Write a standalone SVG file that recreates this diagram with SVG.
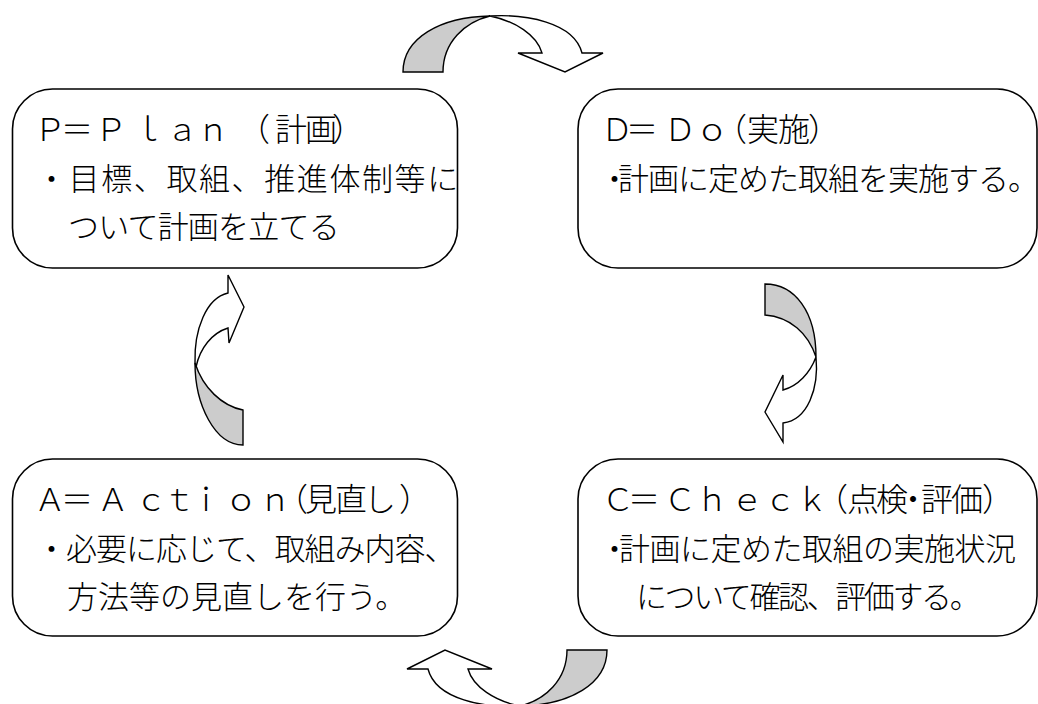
<svg xmlns="http://www.w3.org/2000/svg" width="1038" height="704" viewBox="0 0 1038 704">
<style>
.box{fill:#ffffff;stroke:#000000;stroke-width:1.6}
.t{font-family:"Noto Sans CJK JP","Noto Sans CJK SC",sans-serif;font-size:31px;font-weight:300;fill:#000000}
.h{font-size:32px}
.m{text-anchor:middle}
.sh{fill:#cccccc;stroke:#000000;stroke-width:1.4;stroke-linejoin:miter}
.wh{fill:#ffffff;stroke:#000000;stroke-width:1.4;stroke-linejoin:miter}
</style>
<rect width="1038" height="704" fill="#ffffff"/>
<g id="connectors">
  <g id="arrow-plan-do">
    <path class="wh" d="M490,16 C525,14 574,22 582,53 L603,53 L565,72 L518,53 L542,53 C537,35 515,21 490,16 Z"/>
    <path class="sh" d="M403,72 C403,38 440,17 490,16 C465,22 443,42 443,72 Z"/>
  </g>
  <g id="arrow-do-check">
    <path class="wh" d="M816,357 C819,388 808,420 783,423 L783,442 L765,412 L783,375 L783,390 C798,386 810,373 816,357 Z"/>
    <path class="sh" d="M765,284 C795,284 816,312 816,357 C808,333 790,317 765,315 Z"/>
  </g>
  <g id="arrow-check-action">
    <path class="wh" d="M520,706 C485,708 436,700 428,669 L407,669 L445,650 L492,669 L468,669 C473,687 495,701 520,706 Z"/>
    <path class="sh" d="M607,650 C607,684 570,705 520,706 C545,700 567,680 567,650 Z"/>
  </g>
  <g id="arrow-action-plan">
    <path class="wh" d="M195,363 C194,330 206,298 228,293 L228,275 L244,307 L229,343 L228,328 C212,333 200,348 196,367 Z"/>
    <path class="sh" d="M243,445 C215,445 195,405 195,363 C203,388 222,406 243,410 Z"/>
  </g>
</g>
<g id="node-plan">
  <rect class="box" x="12.5" y="89" width="445" height="179" rx="40" ry="40"/>
  <text class="t h m" x="50 77 111 148 182 213 254 291 321 348" y="141">Ｐ＝Ｐｌａｎ（計画）</text>
  <text class="t" x="36" y="190" letter-spacing="1.6">・目標、取組、推進体制等に</text>
  <text class="t" x="68" y="238" letter-spacing="-0.8">ついて計画を立てる</text>
</g>
<g id="node-do">
  <rect class="box" x="578" y="89" width="459" height="179" rx="40" ry="40"/>
  <text class="t h m" x="617 642 680 712 731 763 794 824" y="141">Ｄ＝Ｄｏ（実施）</text>
  <text class="t" x="599" y="190"><tspan letter-spacing="-12">・</tspan><tspan letter-spacing="-1">計画に定めた取組を実施する。</tspan></text>
</g>
<g id="node-action">
  <rect class="box" x="12.5" y="459" width="445" height="177" rx="40" ry="40"/>
  <text class="t h m" x="50 77 113 151 179 206 241 275 292 321 351 380 415" y="511">Ａ＝Ａｃｔｉｏｎ（見直し）</text>
  <text class="t" x="36" y="560" letter-spacing="-1">・必要に応じて、取組み内容、</text>
  <text class="t" x="67" y="608">方法等の見直しを行う。</text>
</g>
<g id="node-check">
  <rect class="box" x="578" y="459" width="459" height="177" rx="40" ry="40"/>
  <text class="t h m" x="618 644 680 712 747 780 812 832 863 892 913 937 967 998" y="511">Ｃ＝Ｃｈｅｃｋ（点検・評価）</text>
  <text class="t" x="599" y="560"><tspan letter-spacing="-11">・</tspan><tspan letter-spacing="-0.5">計画に定めた取組の実施状況</tspan></text>
  <text class="t" x="636" y="608" letter-spacing="-2.4">について確認、評価する。</text>
</g>
</svg>
